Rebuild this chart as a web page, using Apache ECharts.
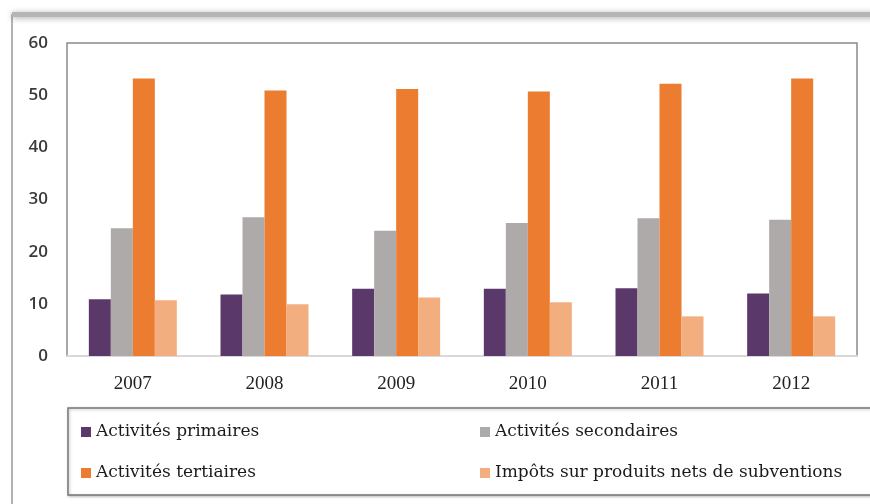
<!DOCTYPE html>
<html>
<head>
<meta charset="utf-8">
<script src="https://cdn.jsdelivr.net/npm/echarts@6/dist/echarts.min.js"></script>
<style>
  html, body { margin: 0; padding: 0; background: #fff; }
  #chart { width: 870px; height: 504px; }
</style>
</head>
<body>
<div id="chart"></div>
<script>
// ── données ──
const years = ['2007', '2008', '2009', '2010', '2011', '2012']
const primaires = [10.9, 11.8, 12.9, 12.9, 13.0, 12.0]
const secondaires = [24.5, 26.6, 24.0, 25.5, 26.4, 26.1]
const tertiaires = [53.2, 50.9, 51.2, 50.7, 52.2, 53.2]
const impots = [10.7, 9.9, 11.2, 10.3, 7.6, 7.6]

const names = [
  'Activités primaires',
  'Activités secondaires',
  'Activités tertiaires',
  'Impôts sur produits nets de subventions',
]
const colors = ['#5a3869', '#adaaa9', '#ec7c30', '#f3ae7f']

const serif = '"Liberation Serif", "DejaVu Serif", serif'

// emplacement des entrées de légende (colonne, ligne)
const legendPos = [[81, 432], [480, 432], [81, 473], [480, 473]]

const chart = echarts.init(document.getElementById('chart'))

function bar(name, data, color) {
  return {
    type: 'bar', name, data,
    barWidth: 22, barGap: '0%',
    itemStyle: { color },
  }
}

// une légende par entrée : pastille seule, le texte est posé en graphic
const legends = names.map((name, i) => ({
  left: legendPos[i][0], top: legendPos[i][1] - 5,
  padding: 0,
  data: [name],
  itemWidth: 10, itemHeight: 10,
  icon: 'rect',
  selectedMode: false,
  formatter: () => '',
}))

const legendLabels = names.map((name, i) => ({
  type: 'text',
  x: legendPos[i][0] + 15, y: legendPos[i][1],
  style: {
    text: name,
    fontFamily: 'DejaVu Serif',
    fontSize: 17,
    fill: '#1a1a1a',
    verticalAlign: 'middle',
  },
  z: 10,
}))

chart.setOption({
  animation: false,
  color: colors,
  graphic: [
    // cadre extérieur
    {
      type: 'rect', shape: { x: 12, y: 15, width: 870, height: 500 },
      style: { fill: 'none', stroke: '#9a9a9a', lineWidth: 1.5 }, z: 0,
    },
    {
      type: 'rect', shape: { x: 12, y: 12, width: 870, height: 5 },
      style: { fill: '#b5b5b5', shadowBlur: 6, shadowColor: 'rgba(0,0,0,0.35)', shadowOffsetY: 1 }, z: 0,
    },
    // cadre de la légende
    {
      type: 'rect', shape: { x: 68, y: 408, width: 810, height: 87 },
      style: { fill: '#fff', stroke: '#777', lineWidth: 1.5, shadowBlur: 3, shadowColor: 'rgba(0,0,0,0.25)', shadowOffsetX: 1, shadowOffsetY: 1 },
      z: 0,
    },
    ...legendLabels,
  ],
  legend: legends,
  grid: {
    left: 67, right: 13, top: 43, bottom: 148,
    show: true, borderColor: '#8a8a8a', borderWidth: 1.5, backgroundColor: '#fff',
  },
  xAxis: {
    type: 'category',
    data: years,
    axisTick: { show: false },
    axisLine: { lineStyle: { color: '#d9d9d9', width: 2 } },
    axisLabel: { margin: 19, fontFamily: serif, fontSize: 19, color: '#222' },
  },
  yAxis: {
    type: 'value',
    min: 0, max: 60, interval: 10,
    splitLine: { show: false },
    axisLine: { show: false },
    axisTick: { show: false },
    axisLabel: { margin: 19, fontFamily: '"Open Sans", "Liberation Sans", sans-serif', fontSize: 17, fontWeight: 600, color: '#3a3a3a' },
  },
  series: [
    bar(names[0], primaires, colors[0]),
    bar(names[1], secondaires, colors[1]),
    bar(names[2], tertiaires, colors[2]),
    bar(names[3], impots, colors[3]),
  ],
})
</script>
</body>
</html>
